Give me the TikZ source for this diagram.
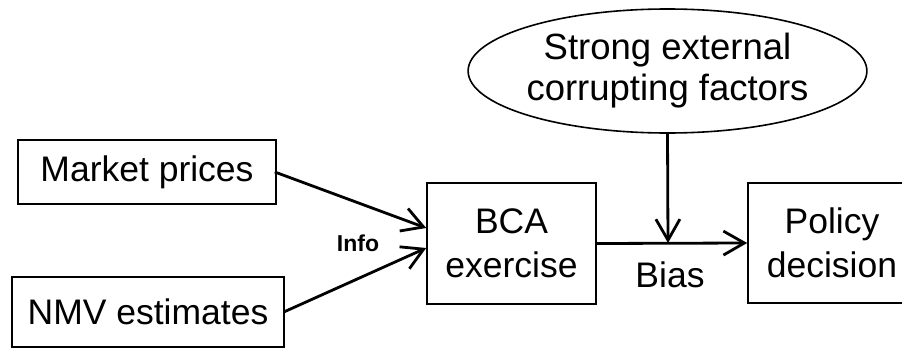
\documentclass[tikz,border=0pt]{standalone}
\usepackage{fontspec}
\setmainfont{Liberation Sans}
\usetikzlibrary{arrows.meta,shapes.geometric}
\begin{document}
\begin{tikzpicture}[x=1pt,y=-1pt,
  box/.style={draw,line width=1.6pt,rectangle,inner sep=0pt,align=center,
    font=\fontsize{35.5}{44}\selectfont},
  oval/.style={draw,line width=1.6pt,ellipse,inner sep=0pt,align=center,
    font=\fontsize{36.5}{41}\selectfont},
  flow/.style={line width=2.8pt,-{Straight Barb[length=21pt,width=24pt,line width=2.8pt]}},
  lbl/.style={inner sep=0pt,font=\fontsize{35.5}{42}\selectfont},
  small/.style={inner sep=0pt,font=\bfseries\fontsize{23}{28}\selectfont}]
\clip (0,0) rectangle (902,348);
\fill[white] (0,0) rectangle (902,348);

\node[box,minimum width=258pt,minimum height=64pt] (mp) at (147,172) {Market prices};
\node[box,minimum width=272pt,minimum height=70pt] (nmv) at (148,312) {NMV estimates};
\node[box,minimum width=169pt,minimum height=121pt] (bca) at (511.5,243.5) {BCA\\exercise};
\node[box,minimum width=168pt,minimum height=120pt] (pol) at (832,243) {Policy\\decision};
\node[oval,minimum width=341pt,minimum height=124pt] (ext) at (667.5,71) {Strong external\\corrupting factors};

\node[small] (info) at (358,243) {Info};
\node[lbl] (bias) at (670,275) {Bias};

\coordinate (inA) at ([yshift=15.5pt]bca.west);
\coordinate (inB) at ([yshift=-4.5pt]bca.west);
\coordinate (join) at (668,243);

\draw[flow] ([xshift=-2pt]mp.east) -- (inA);
\draw[flow] ([xshift=-1pt]nmv.east) -- (inB);
\draw[flow] (bca.east) -- (pol.west);
\draw[flow] (ext.south) -- (join);
\end{tikzpicture}
\end{document}
